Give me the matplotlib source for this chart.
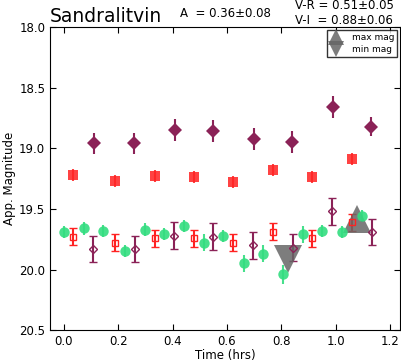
import numpy as np
import matplotlib
matplotlib.use("Agg")
import matplotlib.pyplot as plt

# filled diamonds (large)
t_dia = [0.11, 0.26, 0.41, 0.55, 0.70, 0.84, 0.99, 1.13]
m_dia = [18.96, 18.96, 18.85, 18.86, 18.92, 18.95, 18.66, 18.82]
e_dia = [0.09, 0.09, 0.09, 0.09, 0.09, 0.09, 0.09, 0.08]

# filled squares
t_sq = [0.034, 0.187, 0.334, 0.48, 0.622, 0.771, 0.914, 1.061]
m_sq = [19.22, 19.27, 19.23, 19.24, 19.28, 19.18, 19.24, 19.09]
e_sq = [0.05, 0.05, 0.05, 0.05, 0.05, 0.05, 0.05, 0.05]

# green circles
t_gr = [0.0, 0.074, 0.145, 0.226, 0.297, 0.37, 0.443, 0.514,
        0.587, 0.661, 0.734, 0.807, 0.879, 0.951, 1.024, 1.097]
m_gr = [19.69, 19.66, 19.68, 19.85, 19.67, 19.71, 19.64, 19.78,
        19.72, 19.95, 19.87, 20.04, 19.71, 19.68, 19.69, 19.56]
e_gr = [0.05, 0.055, 0.05, 0.05, 0.05, 0.05, 0.05, 0.07,
        0.05, 0.07, 0.07, 0.08, 0.07, 0.05, 0.05, 0.05]

# open squares
t_osq = [0.034, 0.187, 0.334, 0.48, 0.622, 0.771, 0.914, 1.061]
m_osq = [19.73, 19.78, 19.74, 19.74, 19.78, 19.69, 19.74, 19.61]
e_osq = [0.07, 0.07, 0.07, 0.07, 0.07, 0.07, 0.07, 0.07]

# open diamonds
t_odi = [0.108, 0.263, 0.406, 0.55, 0.697, 0.842, 0.988, 1.135]
m_odi = [19.83, 19.83, 19.72, 19.73, 19.80, 19.82, 19.52, 19.69]
e_odi = [0.11, 0.11, 0.11, 0.11, 0.11, 0.11, 0.11, 0.11]

t_max, m_max = 1.08, 19.58
t_min, m_min = 0.825, 19.91

purple = '#8b2257'
red = '#ff2222'
green = '#33dd80'

fig = plt.figure(figsize=(4.01, 3.62), dpi=100)
ax = fig.add_axes([0.125, 0.088, 0.873, 0.837])

ax.errorbar(t_dia, m_dia, yerr=e_dia, fmt='D', color=purple, ms=7.5, capsize=3, mew=0)
ax.errorbar(t_sq, m_sq, yerr=e_sq, fmt='s', color=red, alpha=0.85, ms=7, capsize=3, mew=0)
ax.errorbar(t_gr, m_gr, yerr=e_gr, fmt='o', color=green, ms=7.5, capsize=3, mew=0, alpha=0.9)
ax.errorbar(t_osq, m_osq, yerr=e_osq, fmt='s', color=red, mfc='none', ms=4, capsize=3)
ax.errorbar(t_odi, m_odi, yerr=e_odi, fmt='D', color=purple, mfc='none', ms=4, capsize=3)

ax.plot([t_max], [m_max], '^', color='#666666', alpha=0.85, ms=20, mew=0, label='max mag')
ax.plot([t_min], [m_min], 'v', color='#666666', alpha=0.85, ms=20, mew=0, label='min mag')

ax.set_xlim(-0.05, 1.237)
ax.set_ylim(20.5, 18.0)
ax.set_xticks([0.0, 0.2, 0.4, 0.6, 0.8, 1.0, 1.2])
ax.set_yticks([18.0, 18.5, 19.0, 19.5, 20.0, 20.5])
ax.tick_params(direction='in', top=True, right=True, labelsize=8.5, length=4)
ax.set_xlabel('Time (hrs)', fontsize=8.5, labelpad=1)
ax.set_ylabel('App. Magnitude', fontsize=8.5, labelpad=2)

leg = ax.legend(loc='upper right', fontsize=6.5, numpoints=1, markerscale=0.6,
                fancybox=False, edgecolor='black', handletextpad=1.2,
                borderaxespad=0.3, labelspacing=0.3, handlelength=1.2,
                borderpad=0.35)
leg.get_frame().set_linewidth(1.0)

fig.text(0.125, 0.94, 'Sandralitvin', fontsize=13.5)
fig.text(0.449, 0.953, 'A  = 0.36\u00b10.08', fontsize=8.5)
fig.text(0.735, 0.975, 'V-R = 0.51\u00b10.05', fontsize=8.5)
fig.text(0.735, 0.935, 'V-I  = 0.88\u00b10.06', fontsize=8.5)

fig.savefig('out.png', dpi=100)
